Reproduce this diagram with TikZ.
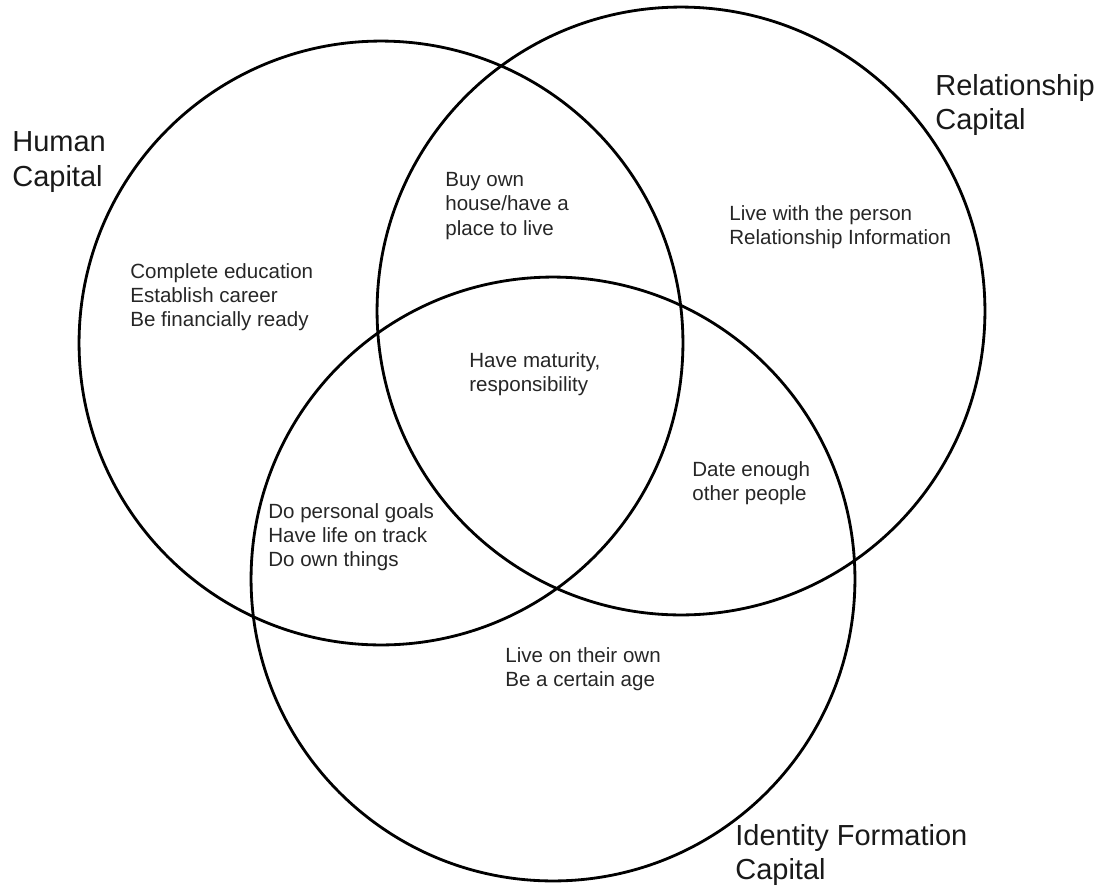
\documentclass[tikz,border=0pt]{standalone}
\usepackage{fontspec}
\setmainfont{Liberation Sans}
\usetikzlibrary{positioning}
\tikzset{
  ring/.style={circle, draw, line width=1.6pt, inner sep=0pt, minimum size=#1},
  note/.style={align=left, anchor=west, inner sep=0pt, text=black!85,
    font=\fontsize{11.7}{13.8}\selectfont},
  title/.style={align=left, anchor=west, inner sep=0pt, text=black!90,
    font=\fontsize{16.5}{19.6}\selectfont}
}
\begin{document}
\begin{tikzpicture}[x=0.02cm, y=-0.02cm]
			\useasboundingbox (0,0) rectangle (1112,893);
			% circles
			\node[ring=12.08cm] (human) at (381,343) {};
			\node[ring=12.16cm] (relation) at (681,311) {};
			\node[ring=12.08cm] (identity) at (553,579) {};
			% circle titles
			\node[title] (humanlbl) at (12,162) {Human\\Capital};
			\node[title] (relationlbl) at (935,105) {Relationship\\Capital};
			\node[title] (identitylbl) at (735,855) {Identity Formation\\Capital};
			% region texts
			\node[note] (humanonly) at (130,297) {Complete education\\Establish career\\Be financially ready};
			\node[note] (humanrel) at (445,206) {Buy own\\house/have a\\place to live};
			\node[note] (relonly) at (729,227) {Live with the person\\Relationship Information};
			\node[note] (allthree) at (469,374) {Have maturity,\\responsibility};
			\node[note] (relid) at (692,483) {Date enough\\other people};
			\node[note] (humanid) at (268,537) {Do personal goals\\Have life on track\\Do own things};
			\node[note] (idonly) at (505,669) {Live on their own\\Be a certain age};
		\end{tikzpicture}
\end{document}
